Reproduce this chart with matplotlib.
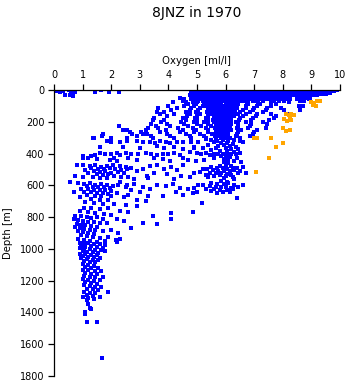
import matplotlib
matplotlib.use("Agg")
import matplotlib.pyplot as plt

# ---------------- data (oxygen in ml/l, depth in m) ----------------
title = "8JNZ in 1970"
x_label = "Oxygen [ml/l]"
y_label = "Depth [m]"
x_ticks = [0, 1, 2, 3, 4, 5, 6, 7, 8, 9, 10]
y_ticks = [0, 200, 400, 600, 800, 1000, 1200, 1400, 1600, 1800]

# standard-depth rows in the upper 300 m (depth -> oxygen values read along the row)
row_depths = [0, 8, 16, 25, 33, 50, 58, 68, 78, 90, 100,
              112, 125, 138, 150, 162, 175, 188, 200, 212, 225, 238, 250, 262, 275, 288, 300]
row_oxygen = [
    [4.92,5.04,5.13,5.25,5.36,5.45,5.58,5.67,5.79,5.9,6.0,6.11,6.2,6.33,6.42,6.54,6.63,6.75,6.86,6.95,7.08,7.17,7.3,7.39,7.5,7.62,7.71,7.83,7.92,8.05,8.14,8.26,8.35,8.47,8.58,8.67,8.8,8.9,9.02,9.1,9.23,9.32,9.45,9.54,9.66,9.75,9.88],
    [4.96,5.07,5.18,5.28,5.4,5.5,5.61,5.72,5.83,5.93,6.05,6.15,6.26,6.37,6.48,6.58,6.69,6.8,6.9,7.01,7.12,7.23,7.34,7.44,7.55,7.66,7.77,7.88,7.98,8.09,8.2,8.31,8.41,8.52,8.63,8.74,8.85,8.95,9.06,9.17,9.28,9.38,9.49,9.6,9.72,9.8],
    [4.9,5.01,5.12,5.22,5.33,5.44,5.55,5.66,5.77,5.87,5.98,6.09,6.2,6.31,6.41,6.52,6.63,6.74,6.85,6.95,7.06,7.17,7.28,7.39,7.49,7.6,7.71,7.82,7.93,8.03,8.14,8.25,8.36,8.47,8.57,8.68,8.79,8.9,9.0,9.12,9.23,9.33,9.45,9.56,9.66],
    [5.0,5.1,5.21,5.32,5.43,5.54,5.64,5.75,5.86,5.97,6.08,6.18,6.29,6.4,6.51,6.62,6.72,6.83,6.94,7.05,7.16,7.26,7.37,7.48,7.59,7.7,7.8,7.91,8.02,8.13,8.24,8.34,8.45,8.56,8.7,8.8,8.92,9.03,9.14,9.25,9.4,9.5],
    [4.88,5.0,5.12,5.25,5.35,5.48,5.6,5.72,5.85,5.95,6.08,6.2,6.32,6.45,6.55,6.68,6.8,6.92,7.05,7.15,7.28,7.4,7.52,7.65,7.75,7.88,8.0,8.12,8.25,8.38,8.5,8.62,8.75,8.85,8.98,9.1,9.2],
    [4.4,4.85,4.98,5.1,5.22,5.35,5.46,5.58,5.7,5.82,5.95,6.06,6.18,6.3,6.42,6.55,6.66,6.78,6.9,7.02,7.14,7.26,7.38,7.5,7.62,7.74,7.86,7.98,8.1,8.22,8.6,8.72,8.85,8.96],
    [4.55,4.8,4.95,5.08,5.2,5.35,5.5,5.62,5.75,5.9,6.02,6.15,6.3,6.42,6.55,6.7,6.82,6.95,7.1,7.25,7.4,7.52,7.68,7.8,7.95,8.1,8.25,8.5,8.7,8.9],
    [4.5,4.9,5.05,5.2,5.38,5.5,5.65,5.8,5.92,6.05,6.2,6.35,6.5,6.62,6.78,6.95,7.1,7.3,7.7,7.85,8.05,8.6,8.75],
    [4.15,4.6,4.85,5.0,5.3,5.45,5.6,5.72,5.85,6.0,6.12,6.25,6.4,6.75,7.15,7.6,8.2],
    [4.7,4.95,5.25,5.4,5.55,5.7,5.85,6.0,6.15,6.3,6.45,6.8,7.2,7.75],
    [4.0,4.55,4.9,5.2,5.35,5.5,5.65,5.8,5.95,6.1,6.25,6.4,6.7,7.1,7.6,8.55,8.7],
    [3.65,4.3,4.8,5.1,5.4,5.52,5.65,5.78,5.9,6.02,6.15,6.28,6.4,6.7,7.0,7.45,7.95],
    [4.1,4.75,5.05,5.45,5.58,5.7,5.82,5.95,6.08,6.2,6.33,6.6,6.95,7.4,8.05,8.6],
    [3.6,3.85,4.6,4.98,5.35,5.62,5.75,5.88,6.0,6.12,6.25,6.52,6.85,7.3],
    [3.7,4.2,4.75,5.1,5.4,5.52,5.65,5.78,5.9,6.02,6.15,6.28,6.42,6.7,7.1,7.6,8.2],
    [3.95,4.65,5.0,5.38,5.62,5.75,5.88,6.0,6.15,6.3,6.6,7.05,7.75],
    [3.5,4.5,4.92,5.3,5.58,5.7,5.82,5.95,6.08,6.2,6.5,6.95,7.7],
    [3.45,3.85,4.6,5.0,5.4,5.55,5.68,5.8,5.92,6.05,6.18,6.48,6.9,7.5],
    [3.75,4.45,4.88,5.25,5.6,5.72,5.85,5.98,6.1,6.35,6.7,7.3],
    [3.4,3.95,4.55,5.0,5.4,5.68,5.8,5.93,6.05,6.18,6.45,6.9,7.45],
    [2.27,3.55,4.05,4.7,5.15,5.5,5.65,5.78,5.9,6.02,6.15,6.45,6.85],
    [3.3,3.65,4.35,4.85,5.3,5.62,5.75,5.88,6.0,6.12,6.4,6.8,7.4],
    [2.4,2.55,3.2,3.9,4.5,4.95,5.4,5.68,5.8,5.92,6.05,6.2,6.55,7.1],
    [2.65,3.05,3.7,4.4,4.9,5.38,5.7,5.85,5.98,6.1,6.45,7.0],
    [1.7,2.72,3.1,3.25,3.95,4.6,5.1,5.52,5.68,5.82,5.95,6.08,6.4,6.95],
    [1.68,2.9,3.4,4.05,4.75,5.25,5.62,5.78,5.92,6.05,6.38,6.85],
    [1.37,1.4,2.0,2.55,3.45,4.2,4.8,5.3,5.68,5.85,6.0,6.15,6.5,7.0],
]

# isolated low-oxygen surface samples (oxygen, depth)
surface_points = [(0.05,0),(0.12,5),(0.22,3),(0.3,8),(0.2,10),(0.38,30),(0.52,2),(0.6,8),
                  (0.65,20),(0.72,12),(0.55,30),(0.68,35),(0.75,5),(1.43,0),(1.45,10),
                  (1.63,0),(1.92,12),(2.27,12),(4.4,52),(4.8,20),(4.75,30)]

# 300-700 m, high-oxygen cluster
mid_right_points = [
    (5.3,310),(5.5,312),(5.7,318),(5.9,315),(6.1,320),(6.3,316),(6.5,322),(4.8,325),(5.05,330),(5.6,330),(5.85,335),(6.05,332),(6.25,338),(6.6,330),
    (5.4,345),(5.75,350),(5.95,348),(6.15,352),(6.35,356),(4.9,360),(5.2,365),(5.65,368),(6.0,365),(6.2,370),(6.45,372),
    (5.5,380),(5.8,385),(6.05,382),(6.3,388),(4.75,390),(5.0,395),(5.3,398),(5.6,400),(5.75,403),(5.9,400),(6.05,398),(6.2,405),(6.35,402),(6.5,398),(5.15,405),(5.45,410),
    (5.85,418),(6.0,422),(6.15,420),(6.4,428),(5.6,430),(5.95,435),(6.1,440),(5.25,440),(4.95,445),(6.3,445),(6.55,450),
    (5.95,455),(6.1,462),(6.0,470),(6.2,478),(5.8,480),(5.5,485),(5.7,492),(5.9,490),(6.05,495),(6.25,488),(6.4,492),(6.6,485),(5.2,495),(5.35,500),
    (5.55,505),(5.75,510),(5.95,508),(6.15,512),(6.3,505),(6.5,510),(5.1,515),(5.45,520),(5.65,525),(5.85,522),(6.05,528),(6.2,532),(6.45,525),(6.7,520),
    (5.3,535),(5.6,540),(5.8,538),(6.0,542),(6.25,545),(5.4,548),(5.95,552),(4.9,520),
    (6.3,560),(5.85,575),(6.05,580),(5.5,585),(5.7,590),(5.95,592),(6.1,588),(6.3,595),(5.2,598),(5.05,600),(5.45,605),(5.65,610),(5.85,612),(6.0,608),
    (6.2,615),(6.45,610),(4.9,615),(5.3,620),(5.6,625),(5.8,628),(6.05,630),(6.25,625),(5.5,635),(5.9,640),(6.15,645),(4.87,650),(5.7,650),(6.4,680),
    (5.17,712),(4.87,765),(5.0,640),(6.6,600),
]

# 300-700 m, intermediate oxygen
mid_middle_points = [
    (2.56,318),(2.89,322),(3.12,330),(3.36,325),(3.53,335),(3.7,320),(3.9,328),(4.06,335),(4.3,330),(4.5,325),
    (2.4,360),(3.0,365),(3.6,355),(3.85,368),(4.2,360),(4.5,372),(4.9,362),
    (2.5,395),(2.7,400),(2.95,405),(3.2,398),(3.4,402),(3.6,408),(3.8,400),(4.0,405),(4.2,395),(4.4,410),
    (2.6,430),(2.9,440),(3.5,425),(3.8,435),(4.05,445),(4.5,430),(4.7,440),
    (3.36,480),(3.6,470),(3.85,495),(4.1,485),(4.3,505),(4.5,475),(3.5,520),(3.95,530),(4.45,540),(3.3,555),(4.2,560),(4.75,545),
    (2.7,490),(2.9,510),(3.1,500),(3.24,540),(2.8,560),
    (2.3,580),(2.55,600),(2.8,590),(3.1,610),(3.36,620),(3.6,595),(3.9,605),(4.15,590),(4.4,615),(4.7,625),(4.25,640),(3.0,645),
    (2.6,660),(3.3,665),(3.8,670),(4.5,660),
]

# 300-700 m, low-oxygen cluster
mid_left_points = [
    (1.84,318),(2.0,325),(2.3,328),(1.6,360),(1.6,395),(1.8,400),(2.0,405),(2.2,398),(2.3,410),(1.0,413),(1.3,415),(1.45,412),
    (1.0,425),(1.2,430),(1.5,435),(1.96,440),(2.19,445),(2.1,430),
    (0.8,470),(1.0,475),(1.26,480),(1.45,470),(1.65,485),(1.85,478),(2.05,472),(2.3,480),(2.5,485),(1.3,490),(1.55,495),(1.75,500),
    (1.95,492),(2.15,498),(2.35,505),(2.55,495),(1.1,505),(1.4,510),(1.6,515),(1.8,512),(2.0,520),(2.25,518),(2.45,525),(1.2,525),
    (1.5,530),(1.7,535),(1.9,528),(2.1,540),(2.35,545),(0.73,540),(1.0,545),(1.35,548),(1.6,552),(1.85,555),(2.6,550),
    (0.56,580),(0.85,585),(1.05,590),(1.25,588),(1.45,595),(1.65,592),(1.85,598),(2.05,602),(2.25,595),(1.15,605),(1.35,610),
    (1.55,612),(1.75,608),(1.95,615),(2.5,612),(0.95,620),(1.2,625),(1.4,628),(1.6,632),(1.8,630),(2.0,635),(2.7,630),(0.7,640),
    (1.05,642),(1.3,645),(1.5,648),(1.7,650),(1.9,655),(2.2,650),(1.15,660),(1.45,665),(1.65,668),(2.0,670),(2.45,672),(0.9,675),
    (1.3,685),(1.6,690),(1.9,695),(2.9,690),(3.2,700),
]

# deep water 700-1700 m
deep_points = [
    (1.1,705),(1.4,712),(1.7,720),(2.1,715),(2.5,725),(2.9,730),(3.46,790),(4.1,775),(4.1,810),(3.6,845),(3.1,840),(2.7,870),
    (2.24,900),(2.17,945),(1.78,1015),
    (1.05,740),(1.3,745),(1.6,750),(1.9,742),(2.3,760),(2.6,770),(0.9,760),(1.2,768),(1.45,772),(1.75,780),(2.0,785),(0.75,790),
    (0.95,795),(1.15,800),(1.3,805),(1.5,798),(1.7,810),(2.2,815),(2.45,825),(0.7,815),(0.85,820),(1.0,825),(1.2,830),(1.4,828),
    (1.6,835),(1.85,840),(0.8,845),(0.95,850),(1.1,852),(1.3,855),(1.5,860),(0.72,865),(0.9,870),(1.05,875),(1.25,878),(1.45,882),
    (1.7,885),(2.0,880),(0.85,890),(1.0,895),(1.2,898),(1.4,905),(0.95,915),(1.15,920),(1.35,925),(1.6,930),(1.9,925),(2.3,935),
    (0.84,940),(1.05,945),(1.25,950),(1.5,955),(1.8,948),(2.2,955),
    (0.9,960),(1.05,965),(1.2,962),(1.4,968),(1.6,970),(1.8,975),(0.95,980),(1.1,985),(1.3,982),(1.5,988),(1.7,992),(0.9,995),
    (1.05,1000),(1.25,1002),(1.45,1005),(1.65,1010),(1.0,1015),(1.15,1020),(1.35,1022),(1.55,1025),(0.92,1030),(1.1,1035),
    (1.3,1038),(1.5,1040),(1.0,1045),(1.2,1050),(1.4,1052),(1.6,1055),(0.95,1060),(1.15,1065),(1.35,1068),(1.55,1072),
    (1.05,1078),(1.25,1082),(1.45,1085),
    (1.0,1095),(1.2,1100),(1.4,1105),(1.1,1115),(1.3,1120),(1.55,1118),(1.0,1130),(1.2,1135),(1.45,1140),(1.65,1138),(1.1,1150),
    (1.3,1155),(1.5,1160),(1.05,1170),(1.25,1175),(1.45,1180),(1.7,1178),(1.0,1190),(1.2,1195),(1.4,1200),(1.6,1198),(1.1,1210),
    (1.3,1215),(1.5,1220),(1.05,1230),(1.25,1235),(1.45,1240),(1.65,1238),(1.15,1250),(1.35,1255),(1.55,1258),(1.9,1270),
    (1.05,1270),(1.25,1275),(1.45,1280),(1.15,1290),(1.35,1295),(1.6,1300),(1.0,1305),(1.2,1310),(1.14,1320),(1.4,1318),
    (1.2,1348),(1.3,1380),(1.1,1395),(1.1,1410),(1.26,1375),(1.14,1457),(1.49,1457),(1.67,1687),
]

# flagged (orange) samples
orange_oxygen = [9.0, 9.1, 9.2, 9.05, 9.15, 9.3, 8.1, 8.3, 8.4, 8.25, 8.2, 8.05, 8.15, 8.3, 8.0, 8.1, 8.25,
                 7.0, 7.1, 7.6, 8.0, 7.75, 7.5, 7.05]
orange_depth = [75, 80, 72, 95, 100, 70, 150, 148, 160, 170, 155, 185, 195, 190, 240, 255, 250,
                305, 300, 300, 333, 360, 430, 515]

# ---------------- assemble blue points ----------------
blue_ox, blue_dep = [], []
for d, oxs in zip(row_depths, row_oxygen):
    for o in oxs:
        blue_ox.append(o)
        blue_dep.append(d)
for group in (surface_points, mid_right_points, mid_middle_points, mid_left_points, deep_points):
    for o, d in group:
        blue_ox.append(o)
        blue_dep.append(d)

# ---------------- figure ----------------
W, H = 348, 384
fig = plt.figure(figsize=(W / 100, H / 100), dpi=100)
ax = fig.add_axes([54 / W, 8 / H, 286 / W, 286 / H])

ax.scatter(blue_ox, blue_dep, s=8, marker="s", color="#0000ff", linewidths=0,
           antialiased=False, zorder=2)
ax.scatter(orange_oxygen, orange_depth, s=8, marker="s", color="#ffa500", linewidths=0,
           antialiased=False, zorder=3)

ax.set_xlim(0, 10)
ax.set_ylim(1800, 0)
ax.set_xticks(x_ticks)
ax.set_yticks(y_ticks)
ax.xaxis.tick_top()
ax.xaxis.set_label_position("top")
for s in ("right", "bottom"):
    ax.spines[s].set_visible(False)
for s in ("left", "top"):
    ax.spines[s].set_linewidth(0.9)
ax.tick_params(axis="both", direction="out", length=4, width=0.9, labelsize=7, pad=3)

ax.set_xlabel(x_label, fontsize=7.3)
ax.xaxis.set_label_coords(0.5, 1 + (90 - 61) / 286)
ax.xaxis.label.set_va("center")
ax.set_ylabel(y_label, fontsize=7.3)
ax.yaxis.set_label_coords((8 - 54) / 286, 0.5)
ax.yaxis.label.set_va("center")

fig.text(197 / W, 1 - 13 / H, title, ha="center", va="center", fontsize=10)

fig.savefig("out.png", dpi=100)
